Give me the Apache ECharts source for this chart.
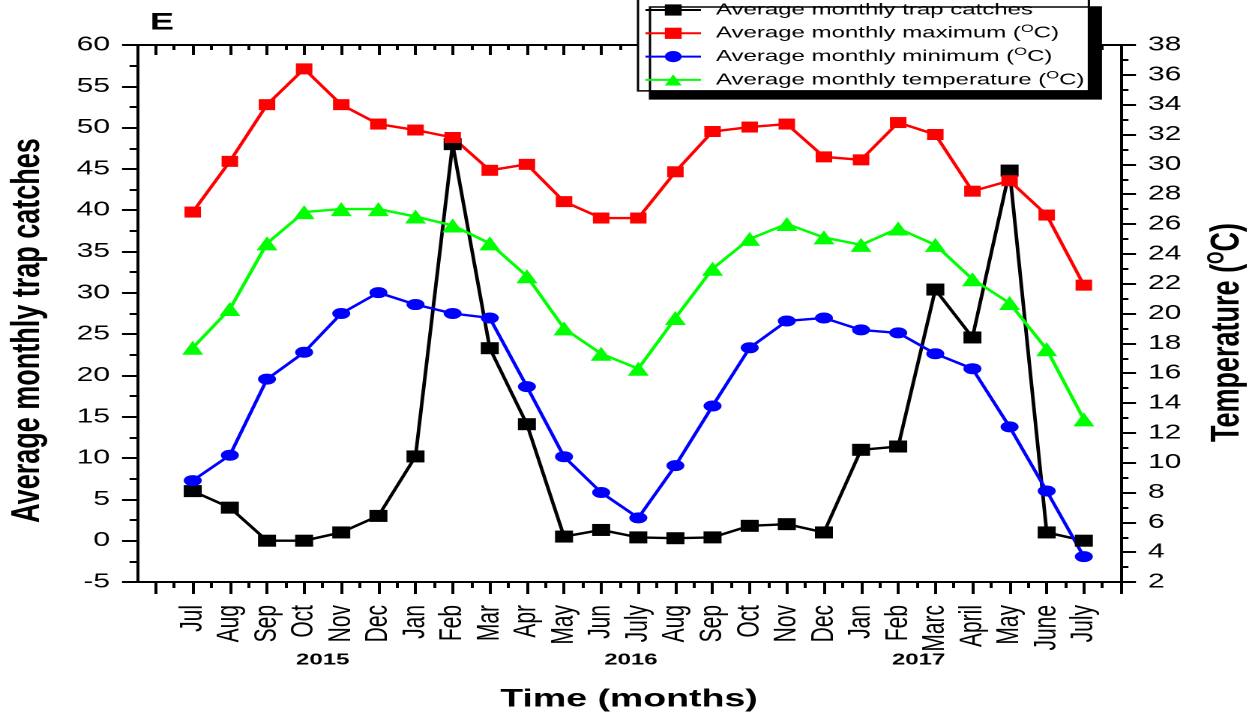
<!DOCTYPE html>
<html>
<head>
<meta charset="utf-8">
<script src="https://cdn.jsdelivr.net/npm/echarts@6/dist/echarts.min.js"></script>
<style>
  html, body { margin: 0; padding: 0; background: #fff; overflow: hidden; }
  #wrap { width: 1255px; height: 717px; overflow: hidden; }
  /* the plot is laid out on a narrower canvas and widened horizontally */
  #chart { width: 837px; height: 717px; transform: scaleX(1.4994); transform-origin: 0 0; }
</style>
</head>
<body>
<div id="wrap"><div id="chart"></div></div>
<script>
// Month categories, July 2015 to July 2017
const months = ['Jul', 'Aug', 'Sep', 'Oct', 'Nov', 'Dec', 'Jan', 'Feb', 'Mar', 'Apr', 'May', 'Jun',
  'July', 'Aug', 'Sep', 'Oct', 'Nov', 'Dec', 'Jan', 'Feb', 'Marc', 'April', 'May', 'June', 'July'];
const years = ['2015', '2016', '2017'];
const yearPos = [3.5, 11.8, 19.55];

// Average monthly trap catches (left axis)
const trapCatches = [6, 4, 0, 0, 1, 3, 10.2, 48, 23.3, 14.1, 0.5, 1.3,
  0.4, 0.3, 0.4, 1.8, 2, 1, 11, 11.4, 30.4, 24.6, 44.8, 1, 0];
// Temperatures in degrees C (right axis)
const maxTemp = [26.8, 30.2, 34.0, 36.4, 34.0, 32.7, 32.3, 31.8, 29.6, 30.0, 27.5, 26.4,
  26.4, 29.5, 32.2, 32.5, 32.7, 30.5, 30.3, 32.8, 32.0, 28.2, 28.9, 26.6, 21.9];
const minTemp = [8.8, 10.5, 15.6, 17.4, 20.0, 21.4, 20.6, 20.0, 19.7, 15.1, 10.4, 8.0,
  6.3, 9.8, 13.8, 17.7, 19.5, 19.7, 18.9, 18.7, 17.3, 16.3, 12.4, 8.1, 3.7];
const meanTemp = [17.7, 20.3, 24.7, 26.8, 27.0, 27.0, 26.5, 25.9, 24.7, 22.5, 19.0, 17.3,
  16.3, 19.7, 23.0, 25.0, 26.0, 25.1, 24.6, 25.7, 24.6, 22.3, 20.7, 17.6, 12.9];

// Axis ranges
const catchRange = [-5, 60, 5];
const tempRange = [2, 38, 2];
const xRange = [-1.5, 25];

const majorX = [];
for (let v = -1; v <= 25; v++) majorX.push(v);
const minorX = majorX.slice(0, -1).map(v => v + 0.5);
const labelX = months.map((m, i) => i);

const FONT = "'Liberation Sans', Arial, sans-serif";
const AXIS_COLOR = '#000';
const LINE_W = 2.4;

const pairs = arr => arr.map((v, i) => [i, v]);

function xAxisDef(position, major, inside, withLine, withLabels) {
  return {
    type: 'value',
    position: position,
    min: xRange[0],
    max: xRange[1],
    splitLine: { show: false },
    axisLine: { show: withLine, onZero: false, lineStyle: { color: AXIS_COLOR, width: 2 } },
    axisTick: {
      show: true,
      inside: inside,
      customValues: major ? majorX : minorX,
      length: major ? (inside ? 10 : 12) : (inside ? 5 : 6),
      lineStyle: { color: AXIS_COLOR, width: 2 }
    },
    axisLabel: withLabels ? {
      show: true,
      customValues: labelX,
      rotate: 90,
      margin: 23,
      fontSize: 21,
      fontFamily: FONT,
      color: '#000',
      formatter: v => months[Math.round(v)]
    } : { show: false }
  };
}

function yAxisDef(position, range, name, padRight, nameGap, rich) {
  return {
    type: 'value',
    position: position,
    min: range[0],
    max: range[1],
    interval: range[2],
    name: name,
    nameLocation: 'middle',
    nameRotate: 90,
    nameGap: nameGap,
    nameTextStyle: {
      fontSize: 27, fontWeight: 'bold', fontFamily: FONT, color: '#000', lineHeight: 30,
      padding: [0, padRight, 0, 0],
      rich: rich
    },
    splitLine: { show: false },
    axisLine: { show: true, onZero: false, lineStyle: { color: AXIS_COLOR, width: 2 } },
    axisTick: { show: true, length: 10, lineStyle: { color: AXIS_COLOR, width: 2 } },
    minorTick: { show: true, splitNumber: 2, length: 5, lineStyle: { color: AXIS_COLOR, width: 2 } },
    axisLabel: { fontSize: 20, margin: 18, fontFamily: FONT, color: '#000' }
  };
}

const chart = echarts.init(document.getElementById('chart'), null, { renderer: 'canvas', devicePixelRatio: 2 });

chart.setOption({
  backgroundColor: '#fff',
  animation: false,
  title: {
    text: 'E',
    left: 95,
    top: 6,
    textStyle: { fontSize: 24, fontWeight: 'bold', fontFamily: FONT, color: '#000' }
  },
  legend: {
    orient: 'vertical',
    left: 425.5,
    top: -1,
    padding: [1, 3, 1, 4],
    itemGap: 3.3,
    itemWidth: 37,
    itemHeight: 14,
    backgroundColor: '#fff',
    borderColor: '#000',
    borderWidth: 1.5,
    borderRadius: 0,
    shadowColor: '#000',
    shadowBlur: 0,
    shadowOffsetX: 8,
    shadowOffsetY: 8,
    textStyle: {
      fontSize: 16,
      lineHeight: 20,
      fontFamily: FONT,
      color: '#000',
      padding: [0, 0, 0, 5],
      rich: { sup: { fontSize: 11, verticalAlign: 'top', lineHeight: 20, fontFamily: FONT, color: '#000' } }
    },
    formatter: name => name.replace('(°C)', '({sup|O}C)')
  },
  grid: { left: 91.4, right: 89.4, top: 45, bottom: 135, outerBoundsMode: 'none' },
  xAxis: [
    xAxisDef('bottom', true, false, true, true),
    xAxisDef('bottom', false, false, false, false),
    xAxisDef('top', true, true, true, false),
    xAxisDef('top', false, true, false, false)
  ],
  yAxis: [
    yAxisDef('left', catchRange, 'Average monthly trap catches', 34, 58),
    yAxisDef('right', tempRange, 'Temperature ({sup|O}C)', 38, 56,
      { sup: { fontSize: 16, fontWeight: 'bold', verticalAlign: 'top', lineHeight: 30, fontFamily: FONT, color: '#000' } })
  ],
  series: [
    {
      name: 'Average monthly trap catches',
      type: 'line',
      xAxisIndex: 0, yAxisIndex: 0,
      data: pairs(trapCatches),
      symbol: 'rect', symbolSize: 12,
      lineStyle: { color: '#000', width: LINE_W },
      itemStyle: { color: '#000' }
    },
    {
      name: 'Average monthly maximum (°C)',
      type: 'line',
      xAxisIndex: 0, yAxisIndex: 1,
      data: pairs(maxTemp),
      symbol: 'rect', symbolSize: 11,
      lineStyle: { color: '#ff0000', width: LINE_W },
      itemStyle: { color: '#ff0000' }
    },
    {
      name: 'Average monthly minimum (°C)',
      type: 'line',
      xAxisIndex: 0, yAxisIndex: 1,
      data: pairs(minTemp),
      symbol: 'circle', symbolSize: [12, 11],
      lineStyle: { color: '#0000ff', width: LINE_W },
      itemStyle: { color: '#0000ff' }
    },
    {
      name: 'Average monthly temperature (°C)',
      type: 'line',
      xAxisIndex: 0, yAxisIndex: 1,
      data: pairs(meanTemp),
      symbol: 'triangle', symbolSize: 14,
      lineStyle: { color: '#00ff00', width: LINE_W },
      itemStyle: { color: '#00ff00' }
    }
  ]
});

// year captions under the month labels, and the x axis title
const captions = years.map((y, k) => ({
  type: 'text',
  x: chart.convertToPixel({ xAxisIndex: 0 }, yearPos[k]),
  y: 652,
  style: {
    text: y,
    fill: '#000',
    font: 'bold 16px ' + FONT,
    textAlign: 'center',
    textVerticalAlign: 'top'
  }
}));
captions.push({
  type: 'text',
  x: chart.convertToPixel({ xAxisIndex: 0 }, 11.75),
  y: 687,
  style: {
    text: 'Time (months)',
    fill: '#000',
    font: 'bold 25px ' + FONT,
    textAlign: 'center',
    textVerticalAlign: 'top'
  }
});
chart.setOption({ graphic: captions });
</script>
</body>
</html>
